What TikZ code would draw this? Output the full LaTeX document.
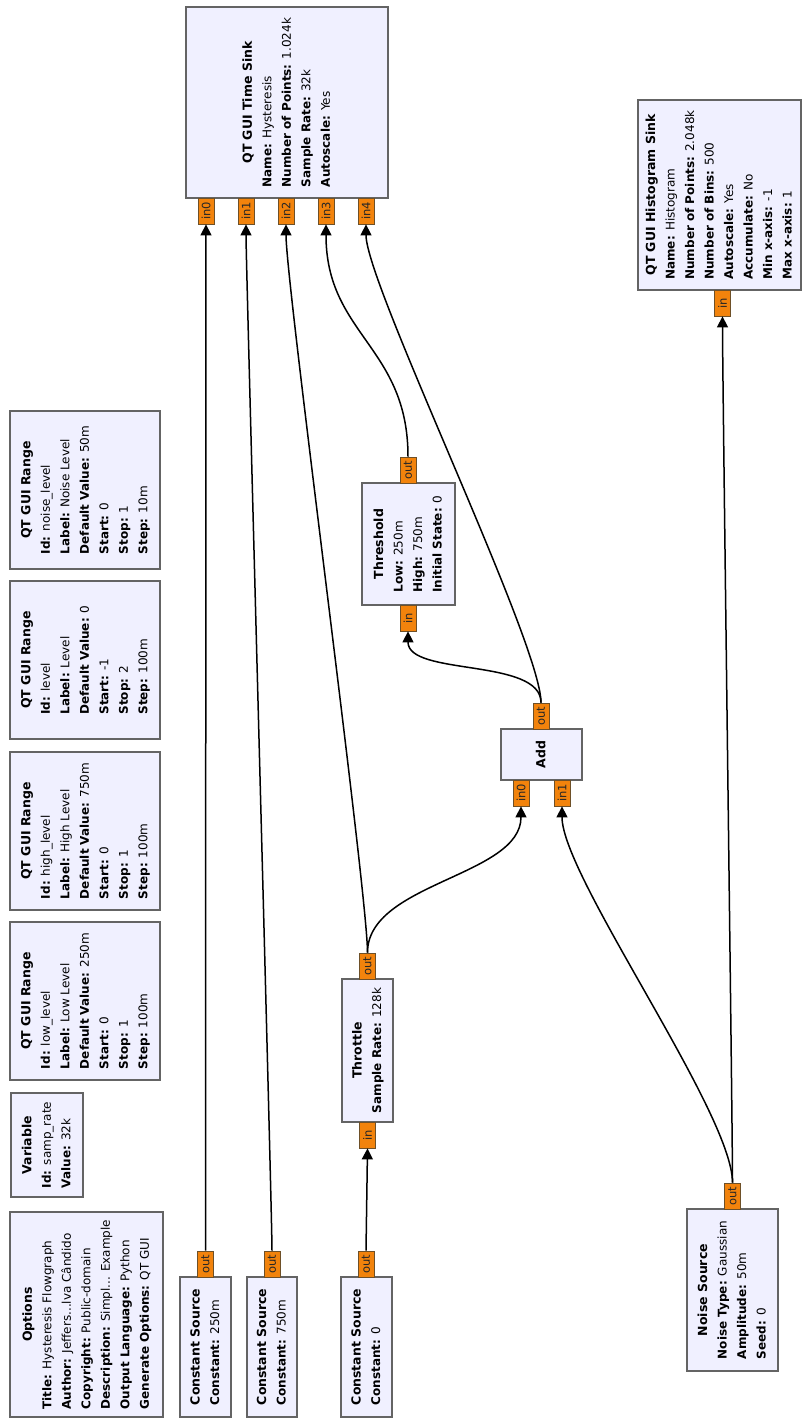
\documentclass[tikz,border=0pt]{standalone}
\usepackage{fontspec}
\setmainfont{DejaVu Sans}
\usetikzlibrary{arrows.meta}

\definecolor{blockfill}{RGB}{240,240,255}
\definecolor{blockedge}{RGB}{100,100,100}
\definecolor{portfill}{RGB}{242,131,12}
\definecolor{portedge}{RGB}{110,80,40}

% block caption: bold title centred, parameters left aligned, turned a quarter
\newcommand{\blocktext}[2]{\rotatebox{90}{\fontsize{12}{19.5}\selectfont
  \begin{tabular}{@{}l@{}}\multicolumn{1}{@{}c@{}}{\fontsize{12.5}{19.5}\selectfont\bfseries #1}#2\end{tabular}}}
\newcommand{\prm}[2]{\\\textbf{#1:} #2}
\newcommand{\portname}[1]{\rotatebox{90}{\fontsize{11.5}{12}\selectfont #1}}

\begin{document}
\begin{tikzpicture}[x=1pt,y=-1pt,
  block/.style={rectangle,draw=blockedge,fill=blockfill,line width=1.8pt,inner sep=0pt},
  port/.style={rectangle,draw=portedge,fill=portfill,line width=0.8pt,inner sep=0pt,
    minimum width=16pt,minimum height=26pt,text=black!85},
  conn/.style={draw=black,line width=1.5pt,-{Triangle[length=11pt,width=11pt]}}]
\useasboundingbox (0,0) rectangle (802,1421);
\fill[white] (0,0) rectangle (802,1421);

% ---- parameter / variable blocks (left column) ----
\node[block,minimum width=153pt,minimum height=205pt] (opts) at (86.5,1314.5)
  {\blocktext{Options}{\prm{Title}{Hysteresis Flowgraph}\prm{Author}{Jeffers...lva Cândido}%
   \prm{Copyright}{Public-domain}\prm{Description}{Simpl... Example}%
   \prm{Output Language}{Python}\prm{Generate Options}{QT GUI}}};
\node[block,minimum width=72pt,minimum height=104pt] (var) at (47,1145)
  {\blocktext{Variable}{\prm{Id}{samp\_rate}\prm{Value}{32k}}};
\node[block,minimum width=150pt,minimum height=158pt] (rlow) at (85,1001)
  {\blocktext{QT GUI Range}{\prm{Id}{low\_level}\prm{Label}{Low Level}%
   \prm{Default Value}{250m}\prm{Start}{0}\prm{Stop}{1}\prm{Step}{100m}}};
\node[block,minimum width=150pt,minimum height=158pt] (rhigh) at (85,831)
  {\blocktext{QT GUI Range}{\prm{Id}{high\_level}\prm{Label}{High Level}%
   \prm{Default Value}{750m}\prm{Start}{0}\prm{Stop}{1}\prm{Step}{100m}}};
\node[block,minimum width=150pt,minimum height=158pt] (rlev) at (85,660)
  {\blocktext{QT GUI Range}{\prm{Id}{level}\prm{Label}{Level}%
   \prm{Default Value}{0}\prm{Start}{-1}\prm{Stop}{2}\prm{Step}{100m}}};
\node[block,minimum width=150pt,minimum height=158pt] (rnoise) at (85,490)
  {\blocktext{QT GUI Range}{\prm{Id}{noise\_level}\prm{Label}{Noise Level}%
   \prm{Default Value}{50m}\prm{Start}{0}\prm{Stop}{1}\prm{Step}{10m}}};

% ---- signal blocks ----
\node[block,minimum width=202pt,minimum height=191pt] (ts) at (287,102.5)
  {\blocktext{QT GUI Time Sink}{\prm{Name}{Hysteresis}\prm{Number of Points}{1.024k}%
   \prm{Sample Rate}{32k}\prm{Autoscale}{Yes}}};
\node[block,minimum width=163pt,minimum height=190pt] (hist) at (719.5,195)
  {\blocktext{QT GUI Histogram Sink}{\prm{Name}{Histogram}\prm{Number of Points}{2.048k}%
   \prm{Number of Bins}{500}\prm{Autoscale}{Yes}\prm{Accumulate}{No}%
   \prm{Min x-axis}{-1}\prm{Max x-axis}{1}}};
\node[block,minimum width=51pt,minimum height=140pt] (cs1) at (205.5,1347)
  {\blocktext{Constant Source}{\prm{Constant}{250m}}};
\node[block,minimum width=50pt,minimum height=140pt] (cs2) at (272,1347)
  {\blocktext{Constant Source}{\prm{Constant}{750m}}};
\node[block,minimum width=51pt,minimum height=140pt] (cs3) at (366.5,1347)
  {\blocktext{Constant Source}{\prm{Constant}{0}}};
\node[block,minimum width=51pt,minimum height=143pt] (thr) at (367.5,1050.5)
  {\blocktext{Throttle}{\prm{Sample Rate}{128k}}};
\node[block,minimum width=93pt,minimum height=122pt] (thd) at (408.5,544)
  {\blocktext{Threshold}{\prm{Low}{250m}\prm{High}{750m}\prm{Initial State}{0}}};
\node[block,minimum width=81pt,minimum height=51pt] (add) at (541.5,754.5)
  {\blocktext{Add}{}};
\node[block,minimum width=91pt,minimum height=162pt] (noise) at (732.5,1290)
  {\blocktext{Noise Source}{\prm{Noise Type}{Gaussian}\prm{Amplitude}{50m}\prm{Seed}{0}}};

% ---- ports ----
\node[port] (ts-in0) at (206,211) {\portname{in0}};
\node[port] (ts-in1) at (246,211) {\portname{in1}};
\node[port] (ts-in2) at (286,211) {\portname{in2}};
\node[port] (ts-in3) at (326,211) {\portname{in3}};
\node[port] (ts-in4) at (366,211) {\portname{in4}};
\node[port] (hist-in) at (722.5,303) {\portname{in}};
\node[port] (cs1-out) at (205.5,1264) {\portname{out}};
\node[port] (cs2-out) at (272,1264) {\portname{out}};
\node[port] (cs3-out) at (366,1264) {\portname{out}};
\node[port] (thr-out) at (367.5,966) {\portname{out}};
\node[port] (thr-in) at (367.5,1135) {\portname{in}};
\node[port] (thd-out) at (408,470) {\portname{out}};
\node[port] (thd-in) at (408,618) {\portname{in}};
\node[port] (add-out) at (541,716) {\portname{out}};
\node[port] (add-in0) at (521,793) {\portname{in0}};
\node[port] (add-in1) at (562,793) {\portname{in1}};
\node[port] (noise-out) at (732.5,1196) {\portname{out}};

% ---- connections ----
\draw[conn] (cs1-out.north) -- (ts-in0.south);
\draw[conn] (cs2-out.north) .. controls +(0,-40) and +(0,40) .. (ts-in1.south);
\draw[conn] (cs3-out.north) -- (thr-in.south);
\draw[conn] (thr-out.north) .. controls +(0,-60) and +(0,60) .. (ts-in2.south);
\draw[conn] (thr-out.north) .. controls +(0,-70) and +(0,70) .. (add-in0.south);
\draw[conn] (noise-out.north) .. controls +(0,-70) and +(0,70) .. (add-in1.south);
\draw[conn] (noise-out.north) .. controls +(0,-60) and +(0,60) .. (hist-in.south);
\draw[conn] (add-out.north) .. controls +(0,-45) and +(0,45) .. (thd-in.south);
\draw[conn] (add-out.north) .. controls +(0,-60) and +(0,60) .. (ts-in4.south);
\draw[conn] (thd-out.north) .. controls +(0,-110) and +(0,110) .. (ts-in3.south);
\end{tikzpicture}
\end{document}
